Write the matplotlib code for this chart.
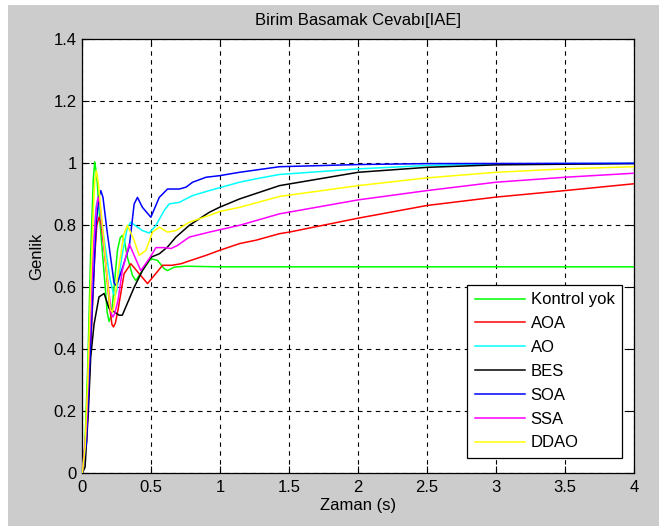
import matplotlib
matplotlib.use("Agg")
import matplotlib.pyplot as plt
from matplotlib.patches import Rectangle

plt.rcParams['font.family'] = ['Liberation Sans', 'DejaVu Sans']
plt.rcParams['font.size'] = 12

# Unit step responses (time in s, amplitude)
t_kontrol = [0, 0.02, 0.04, 0.06, 0.08, 0.09, 0.105, 0.13, 0.17, 0.18, 0.194, 0.21, 0.22,
             0.255, 0.275, 0.29, 0.305, 0.327, 0.364, 0.388, 0.436, 0.497, 0.545, 0.594,
             0.618, 0.667, 0.75, 1.0, 4.0]
y_kontrol = [0, 0.10, 0.35, 0.70, 0.95, 1.005, 0.96, 0.80, 0.58, 0.52, 0.49, 0.51, 0.55,
             0.72, 0.76, 0.767, 0.75, 0.697, 0.638, 0.622, 0.654, 0.692, 0.687, 0.660,
             0.654, 0.665, 0.668, 0.666, 0.666]

t_aoa = [0, 0.03, 0.06, 0.09, 0.105, 0.121, 0.135, 0.16, 0.20, 0.215, 0.226, 0.24, 0.26,
         0.303, 0.352, 0.412, 0.473, 0.521, 0.582, 0.65, 0.716, 0.788, 0.897, 0.994, 1.14,
         1.26, 1.43, 1.5, 2.0, 2.5, 3.0, 3.5, 4.0]
y_aoa = [0, 0.10, 0.40, 0.70, 0.80, 0.826, 0.81, 0.72, 0.53, 0.48, 0.472, 0.485, 0.53,
         0.644, 0.676, 0.644, 0.612, 0.638, 0.671, 0.671, 0.676, 0.687, 0.703, 0.719, 0.741,
         0.752, 0.773, 0.778, 0.823, 0.864, 0.891, 0.912, 0.934]

t_ao = [0, 0.03, 0.06, 0.09, 0.10, 0.11, 0.125, 0.15, 0.20, 0.225, 0.238, 0.25, 0.29,
        0.327, 0.352, 0.40, 0.436, 0.485, 0.534, 0.594, 0.63, 0.703, 0.80, 0.921, 1.14,
        1.26, 1.43, 2.0, 2.5, 3.0, 4.0]
y_ao = [0, 0.12, 0.50, 0.80, 0.86, 0.88, 0.86, 0.78, 0.63, 0.58, 0.574, 0.59, 0.708,
        0.794, 0.81, 0.794, 0.783, 0.775, 0.80, 0.848, 0.869, 0.874, 0.896, 0.912, 0.939,
        0.95, 0.964, 0.982, 0.993, 0.998, 1.0]

t_bes = [0, 0.02, 0.044, 0.061, 0.085, 0.121, 0.158, 0.194, 0.267, 0.29, 0.315, 0.376,
         0.436, 0.497, 0.558, 0.618, 0.679, 0.776, 0.921, 0.994, 1.14, 1.43, 2.0, 2.5,
         3.0, 4.0]
y_bes = [0, 0.02, 0.20, 0.375, 0.48, 0.569, 0.58, 0.532, 0.51, 0.51, 0.536, 0.60,
         0.654, 0.697, 0.708, 0.73, 0.762, 0.80, 0.842, 0.858, 0.885, 0.928, 0.971, 0.987,
         0.995, 0.999]

t_soa = [0, 0.03, 0.06, 0.10, 0.12, 0.134, 0.15, 0.18, 0.23, 0.243, 0.26, 0.34, 0.376,
         0.40, 0.436, 0.497, 0.558, 0.618, 0.703, 0.752, 0.80, 0.897, 0.994, 1.14, 1.43,
         2.0, 2.5, 4.0]
y_soa = [0, 0.10, 0.42, 0.80, 0.89, 0.912, 0.89, 0.78, 0.615, 0.606, 0.62, 0.73, 0.869,
         0.89, 0.858, 0.826, 0.89, 0.917, 0.917, 0.923, 0.939, 0.955, 0.96, 0.971, 0.989,
         0.996, 0.999, 1.0]

t_ssa = [0, 0.03, 0.05, 0.08, 0.10, 0.114, 0.128, 0.16, 0.21, 0.222, 0.235, 0.26, 0.29,
         0.34, 0.376, 0.424, 0.485, 0.534, 0.594, 0.643, 0.69, 0.776, 0.921, 1.14, 1.43,
         2.0, 2.5, 3.0, 3.5, 4.0]
y_ssa = [0, 0.15, 0.40, 0.72, 0.85, 0.89, 0.87, 0.72, 0.515, 0.504, 0.515, 0.56, 0.654,
         0.74, 0.703, 0.654, 0.692, 0.728, 0.728, 0.725, 0.735, 0.762, 0.778, 0.80, 0.837,
         0.882, 0.912, 0.939, 0.955, 0.968]

t_ddao = [0, 0.02, 0.04, 0.06, 0.08, 0.09, 0.102, 0.115, 0.15, 0.20, 0.205, 0.218, 0.23,
          0.26, 0.30, 0.327, 0.376, 0.412, 0.461, 0.509, 0.558, 0.618, 0.679, 0.776, 0.921,
          1.0, 1.14, 1.43, 2.0, 2.5, 3.0, 3.5, 4.0]
y_ddao = [0, 0.08, 0.30, 0.60, 0.85, 0.94, 0.976, 0.94, 0.78, 0.536, 0.528, 0.52, 0.54,
          0.65, 0.77, 0.80, 0.751, 0.703, 0.719, 0.778, 0.794, 0.778, 0.783, 0.81, 0.832,
          0.845, 0.858, 0.893, 0.928, 0.953, 0.971, 0.982, 0.989]

series = [
    ("Kontrol yok", t_kontrol, y_kontrol, (0, 1, 0)),
    ("AOA", t_aoa, y_aoa, (1, 0, 0)),
    ("AO", t_ao, y_ao, (0, 1, 1)),
    ("BES", t_bes, y_bes, (0, 0, 0)),
    ("SOA", t_soa, y_soa, (0, 0, 1)),
    ("SSA", t_ssa, y_ssa, (1, 0, 1)),
    ("DDAO", t_ddao, y_ddao, (1, 1, 0)),
]

x_ticks = [0, 0.5, 1, 1.5, 2, 2.5, 3, 3.5, 4]
x_tick_labels = ["0", "0.5", "1", "1.5", "2", "2.5", "3", "3.5", "4"]
y_ticks = [0, 0.2, 0.4, 0.6, 0.8, 1.0, 1.2, 1.4]
y_tick_labels = ["0", "0.2", "0.4", "0.6", "0.8", "1", "1.2", "1.4"]

W, H = 659, 526
fig = plt.figure(figsize=(W / 100, H / 100), dpi=100, facecolor="white")
# grey figure panel behind the axes
fig.patches.append(Rectangle((8 / W, 0), 1 - 8 / W, 1 - 5 / H, transform=fig.transFigure,
                             facecolor="#cccccc", edgecolor="none", zorder=-10))

ax = fig.add_axes([82.3 / W, (H - 473.3) / H, (634 - 82.3) / W, (473.3 - 39.3) / H])
ax.set_zorder(1)
ax.set_facecolor("white")

for name, t, y, c in series:
    ax.plot(t, y, color=c, lw=1.1, label=name, zorder=3)

ax.set_xlim(0, 4)
ax.set_ylim(0, 1.4)
ax.set_xticks(x_ticks, x_tick_labels)
ax.set_yticks(y_ticks, y_tick_labels)
ax.tick_params(direction="in", length=5, width=0.8, top=True, right=True,
               colors="black", labelsize=12)
ax.tick_params(axis="x", pad=5)
ax.tick_params(axis="y", pad=4)
for s in ax.spines.values():
    s.set_linewidth(0.9)
    s.set_color("black")
ax.grid(True, color="black", linestyle=(0, (4, 4)), linewidth=0.8, zorder=1)
ax.set_axisbelow(True)

ax.set_title("Birim Basamak Cevabı[IAE]", fontsize=12, pad=10)
ax.set_xlabel("Zaman (s)", fontsize=12, labelpad=2)
ax.set_ylabel("Genlik", fontsize=12, labelpad=7)

leg = ax.legend(loc="upper left", bbox_to_anchor=(0.698, 0.434), borderaxespad=0,
                fancybox=False, framealpha=1, edgecolor="black", fontsize=12,
                handlelength=3.0, handletextpad=0.35, labelspacing=0.53, borderpad=0.45)
leg.get_frame().set_linewidth(0.9)

fig.savefig("out.png", dpi=100, facecolor=fig.get_facecolor())
